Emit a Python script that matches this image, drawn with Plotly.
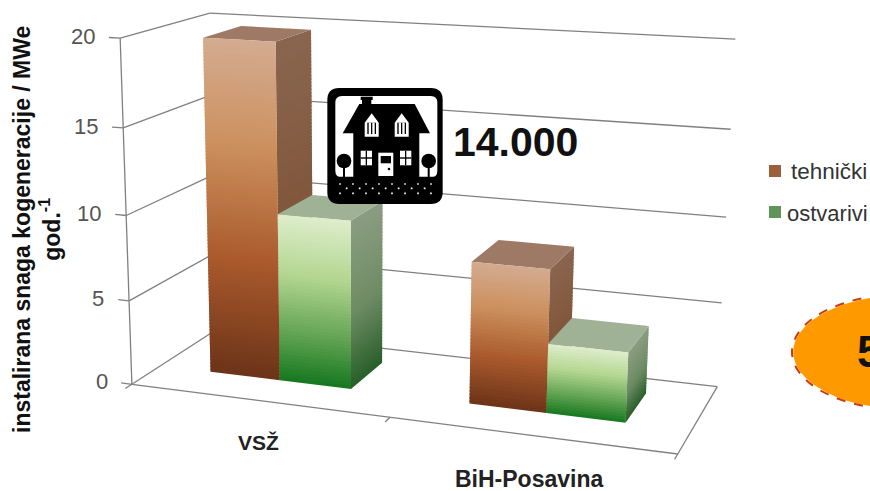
import numpy as np
import plotly.graph_objects as go

categories = ["VSŽ", "BiH-Posavina"]
tehnicki = [19.7, 8.2]
ostvarivi = [9.9, 4]
y_ticks = [0, 5, 10, 15, 20]
series_names = ["tehnički", "ostvarivi"]
y_title = "instalirana snaga kogeneracije / MWe<br>god.<sup>-1</sup>"

W, H = 870, 491
# perspective camera of the 3-D chart box: (category position, depth, value) -> picture
M = np.array([[476.55098, 105.96438, -0.87533, 131.88344],
              [23.28558, -22.51793, -17.40058, 384.29233],
              [-0.10224, 0.09816, -0.00241, 1.0]])


def pr(u, v, w):
    h = M @ np.array([u, v, w, 1.0])
    return float(h[0] / h[2]), float(h[1] / h[2])


def lerp(stops, t):
    ts = [s[0] for s in stops]
    return "rgb(%d,%d,%d)" % tuple(np.interp(t, ts, [s[1][i] for s in stops]) for i in range(3))


BROWN = dict(
    front=[(0, (212, 172, 145)), (.3, (205, 145, 95)), (.65, (170, 90, 45)), (1, (108, 52, 24))],
    side=[(0, (138, 102, 80)), (.5, (130, 88, 60)), (1, (100, 58, 30))],
    top=(158, 122, 102))
GREEN = dict(
    front=[(0, (222, 238, 205)), (.35, (180, 215, 145)), (.7, (100, 165, 85)), (1, (22, 120, 32))],
    side=[(0, (140, 158, 130)), (.55, (110, 140, 100)), (1, (40, 95, 42))],
    top=(160, 178, 150))

fig = go.Figure()


def poly(corners, color, name):
    fig.add_trace(go.Scatter(
        x=[c[0] for c in corners] + [corners[0][0]],
        y=[c[1] for c in corners] + [corners[0][1]],
        mode="lines", fill="toself", fillcolor=color, line=dict(width=0),
        hoverinfo="skip", showlegend=False, name=name))


# chart box lines
gx, gy = [], []


def seg(a, b):
    p, q = pr(*a), pr(*b)
    gx.extend([p[0], q[0], None])
    gy.extend([p[1], q[1], None])


for t in y_ticks:
    seg((-0.022, 0, t), (0, 0, t))
    seg((0, 0, t), (0, 1, t))
    seg((0, 1, t), (1, 1, t))
seg((0, 0, 0), (0, 0, max(y_ticks)))
seg((0, 0, 0), (1, 0, 0))
seg((1, 0, 0), (1, 1, 0))
for u in (0, .5, 1):
    seg((u, 0, 0), (u, -0.07, 0))
fig.add_trace(go.Scatter(x=gx, y=gy, mode="lines", line=dict(color="#808080", width=1.3),
                         hoverinfo="skip", showlegend=False, name="grid"))

V0, V1 = 0.32, 0.77
BAR = 0.14
CENTRES = [0.243, 0.747]


def bar(u0, u1, val, st, name):
    N = max(24, int(val * 5))
    # side face
    for k in range(N):
        a, b = k / N, min(1, (k + 1.5) / N)
        poly([pr(u1, V0, val * (1 - a)), pr(u1, V1, val * (1 - a)), pr(u1, V1, val * (1 - b)), pr(u1, V0, val * (1 - b))],
             lerp(st["side"], (k + .5) / N), name)
    # top face
    poly([pr(u0, V0, val), pr(u1, V0, val), pr(u1, V1, val), pr(u0, V1, val)], "rgb(%d,%d,%d)" % st["top"], name)
    # front face
    for k in range(N):
        a, b = k / N, min(1, (k + 1.5) / N)
        poly([pr(u0, V0, val * (1 - a)), pr(u1, V0, val * (1 - a)), pr(u1, V0, val * (1 - b)), pr(u0, V0, val * (1 - b))],
             lerp(st["front"], (k + .5) / N), name)


for i, c in enumerate(categories):
    bar(CENTRES[i] - BAR, CENTRES[i], tehnicki[i], BROWN, series_names[0])
    bar(CENTRES[i], CENTRES[i] + BAR, ostvarivi[i], GREEN, series_names[1])

# legend keys
fig.add_trace(go.Scatter(x=[775], y=[171], mode="markers", name=series_names[0], showlegend=False, hoverinfo="skip",
                         marker=dict(symbol="square", size=12, color="#9c5f3c")))
fig.add_trace(go.Scatter(x=[775], y=[212], mode="markers", name=series_names[1], showlegend=False, hoverinfo="skip",
                         marker=dict(symbol="square", size=12, color="#5f9558")))

ann = []
for t in y_ticks:
    x, y = pr(-0.05, 0, t)
    ann.append(dict(x=x + 2, y=y, text=str(t), xanchor="right", yanchor="middle", showarrow=False,
                    font=dict(size=22, color="#555555")))
ann.append(dict(x=258, y=442, text="<b>%s</b>" % categories[0], xanchor="center", yanchor="middle", showarrow=False,
                font=dict(family="Liberation Sans", color="#222222", size=21)))
ann.append(dict(x=529, y=479, text="<b>%s</b>" % categories[1], xanchor="center", yanchor="middle", showarrow=False,
                font=dict(family="Liberation Sans", color="#222222", size=23)))
ann.append(dict(x=37, y=230, text="<b>%s</b>" % y_title, textangle=-90, xanchor="center", yanchor="middle",
                showarrow=False, font=dict(family="Liberation Sans", color="#111111", size=23)))
ann.append(dict(x=451, y=142, text="<b>14.000</b>", xanchor="left", yanchor="middle", showarrow=False,
                font=dict(family="Liberation Sans", size=41, color="#111111")))
ann.append(dict(x=789, y=171, text=series_names[0], xanchor="left", yanchor="middle", showarrow=False,
                font=dict(family="Liberation Sans", size=22.5, color="#333333")))
ann.append(dict(x=785, y=213, text=series_names[1], xanchor="left", yanchor="middle", showarrow=False,
                font=dict(family="Liberation Sans", size=22, color="#333333")))
ann.append(dict(x=855, y=351, text="<b>5</b>", xanchor="left", yanchor="middle", showarrow=False,
                font=dict(family="Liberation Sans", size=44, color="#111111")))

# decoration: house pictogram and orange ellipse (picture pixels)
shapes = []


def zx(a):
    return 320 + a / 3


def zy(a):
    return 80 + a / 3


def path(pts, fill):
    d = "M" + " L".join("%.1f,%.1f" % (zx(a), zy(b)) for a, b in pts) + " Z"
    shapes.append(dict(type="path", path=d, fillcolor=fill, line=dict(width=0), layer="above", xref="x", yref="y"))


def rect(a0, b0, a1, b1, fill):
    path([(a0, b0), (a1, b0), (a1, b1), (a0, b1)], fill)


def circ(a, b, r, fill):
    shapes.append(dict(type="circle", x0=zx(a - r), x1=zx(a + r), y0=zy(b - r), y1=zy(b + r), fillcolor=fill,
                       line=dict(width=0), layer="above", xref="x", yref="y"))


def rrect(a0, b0, a1, b1, r, fill):
    x0, x1, y0, y1 = zx(a0), zx(a1), zy(b0), zy(b1)
    r /= 3
    d = (f"M{x0 + r},{y0} L{x1 - r},{y0} Q{x1},{y0} {x1},{y0 + r} L{x1},{y1 - r} Q{x1},{y1} {x1 - r},{y1} "
         f"L{x0 + r},{y1} Q{x0},{y1} {x0},{y1 - r} L{x0},{y0 + r} Q{x0},{y0} {x0 + r},{y0} Z")
    shapes.append(dict(type="path", path=d, fillcolor=fill, line=dict(width=0), layer="above", xref="x", yref="y"))


rrect(22, 24, 368, 372, 36, "#000000")
rrect(46, 48, 352, 292, 20, "#ffffff")
rect(46, 290, 352, 300, "#000000")
rect(126, 52, 154, 74, "#000000")
rect(122, 50, 158, 60, "#000000")
path([(68, 160), (118, 72), (284, 72), (330, 160)], "#000000")
rect(100, 158, 298, 292, "#000000")
for a in (72, 326):
    circ(a, 243, 22, "#000000")
    rect(a - 3, 260, a + 3, 292, "#000000")
for a in (155, 245):
    path([(a - 21, 128), (a, 100), (a + 21, 128), (a + 21, 170), (a - 21, 170)], "#ffffff")
    rect(a - 13, 128, a + 13, 162, "#000000")
    rect(a - 9, 128, a - 2, 162, "#ffffff")
    rect(a + 2, 128, a + 9, 162, "#ffffff")
for a0, a1 in ((122, 156), (240, 274)):
    rect(a0, 212, a1, 256, "#ffffff")
    rect((a0 + a1) / 2 - 2, 212, (a0 + a1) / 2 + 2, 256, "#000000")
    rect(a0, 232, a1, 236, "#000000")
rect(175, 218, 220, 288, "#ffffff")
rect(182, 228, 213, 250, "#000000")
circ(207, 267, 4, "#000000")
for row, (b, off) in enumerate(((312, 60), (325, 80), (340, 60))):
    for j in range(8):
        a = off + 39 * j
        if a < 345:
            rect(a - 2.5, b - 2.5, a + 2.5, b + 2.5, "#ffffff")

shapes.insert(0, dict(type="circle", x0=792, x1=1018, y0=294, y1=410, fillcolor="#FF9900", layer="above",
                      line=dict(color="#ffffff", width=2.5), xref="x", yref="y"))
shapes.insert(1, dict(type="circle", x0=792, x1=1018, y0=294, y1=410, layer="above",
                      line=dict(color="#cc3a10", width=2, dash="dash"), xref="x", yref="y"))

fig.update_layout(
    width=W, height=H, autosize=False, margin=dict(l=0, r=0, t=0, b=0), showlegend=False,
    paper_bgcolor="white", plot_bgcolor="white",
    font=dict(family="Liberation Sans"),
    xaxis=dict(range=[0, W], visible=False, fixedrange=True),
    yaxis=dict(range=[H, 0], visible=False, fixedrange=True),
    annotations=ann, shapes=shapes)
fig.write_html("out.html", post_script="document.body.style.margin='0';", config=dict(displayModeBar=False))
